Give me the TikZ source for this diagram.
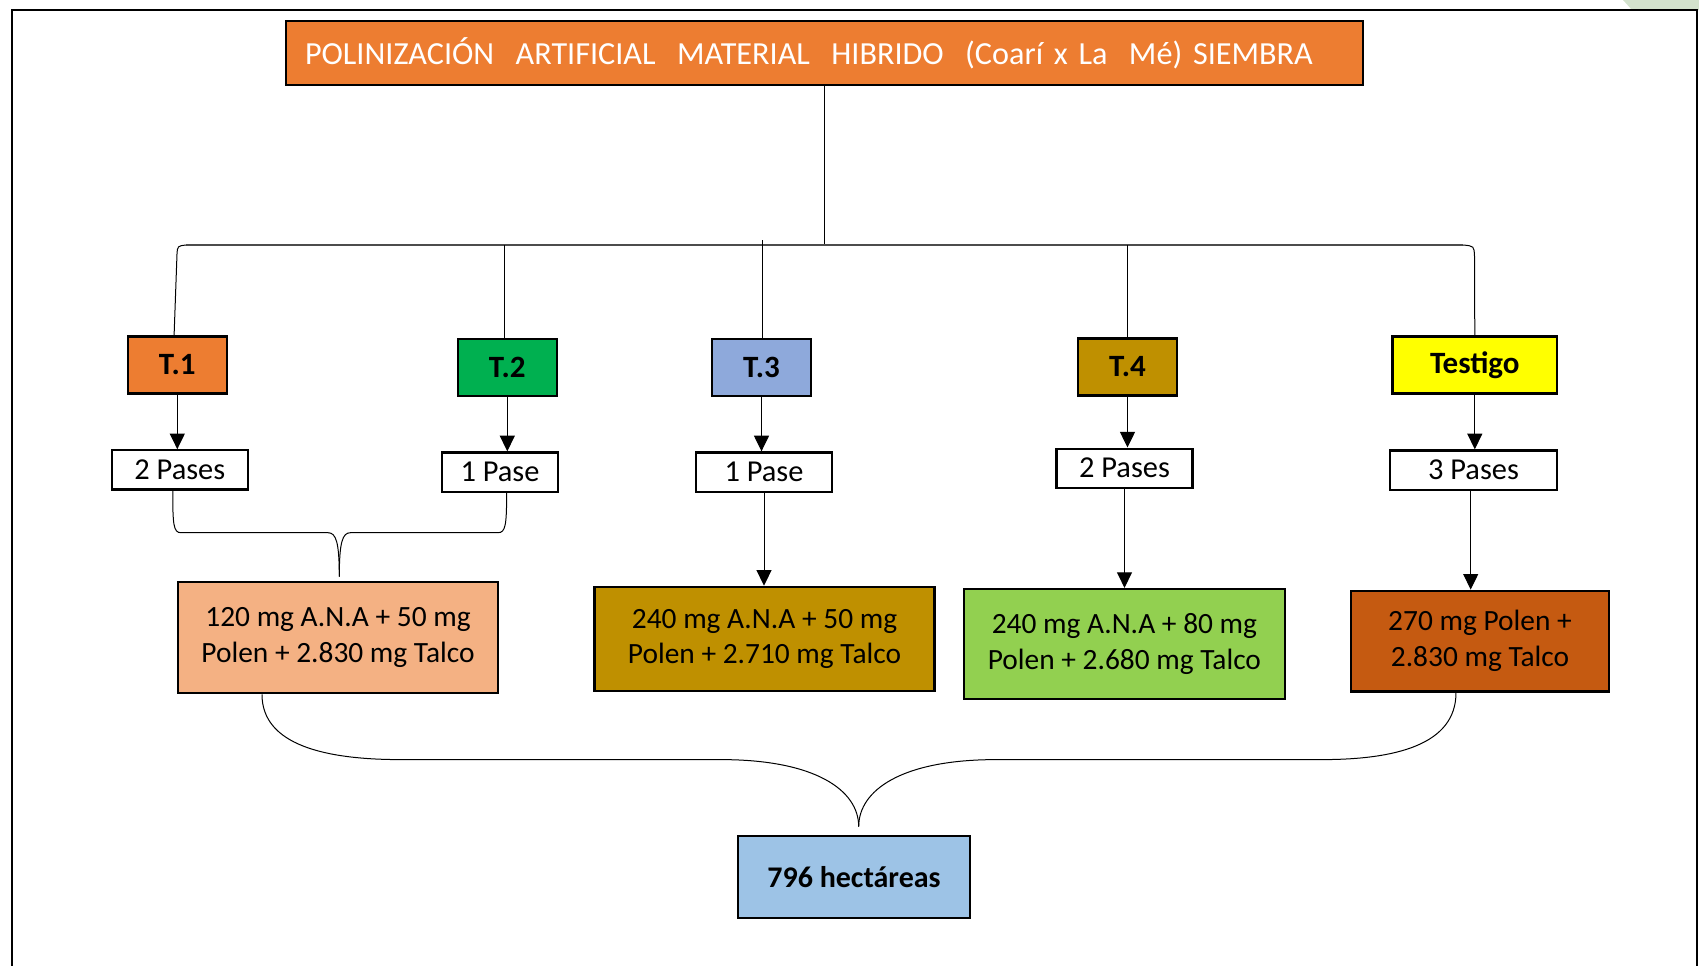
\documentclass[tikz,border=0pt]{standalone}
\usepackage{fontspec}
\setmainfont{Carlito}
\usetikzlibrary{arrows.meta}
\definecolor{cTitle}{HTML}{ED7D31}
\definecolor{cTwo}{HTML}{00B050}
\definecolor{cThree}{HTML}{8EA9DB}
\definecolor{cFour}{HTML}{BF9000}
\definecolor{cTest}{HTML}{FFFF00}
\definecolor{cBoxA}{HTML}{F4B183}
\definecolor{cBoxC}{HTML}{92D050}
\definecolor{cBoxD}{HTML}{C55A11}
\definecolor{cBottom}{HTML}{9DC3E6}
\definecolor{cSliver}{HTML}{D3E2CD}
\begin{document}
\begin{tikzpicture}[x=0.5pt,y=-0.5pt,
  box/.style={draw=black,line width=1.1pt,inner sep=0pt,align=center},
  tbox/.style={box,font=\fontsize{15.5}{18}\selectfont\bfseries,minimum width=49.4pt,minimum height=28.5pt},
  pbox/.style={box,fill=white,font=\fontsize{15.2}{18}\selectfont,minimum height=19.6pt},
  dbox/.style={box,font=\fontsize{14.7}{17.9}\selectfont},
  conn/.style={line width=0.5pt},
  arr/.style={conn,-{Triangle[length=7.8pt,width=7.5pt]}}]
\useasboundingbox (0,0) rectangle (1699,965);
\clip (0,0) rectangle (1699,965);
% background decoration
\fill[cSliver] (1623,0) -- (1699,0) -- (1699,10) -- (1632,10) -- cycle;
\draw[line width=1.4pt] (12,10) rectangle (1697,1100);

% title
\node[box,fill=cTitle,text=white,font=\fontsize{16.1}{19}\selectfont,
  minimum width=538.5pt,minimum height=32.3pt,text width=519.5pt,align=left,inner xsep=9.5pt]
  (title) at (824.5,53) {POLINIZACIÓN~ ARTIFICIAL~ MATERIAL~ HIBRIDO~ (Coarí x La~ Mé) SIEMBRA};

% treatments
\node[tbox,fill=cTitle] (t1) at (177.3,365) {T.1};
\node[tbox,fill=cTwo] (t2) at (507.3,367.2) {T.2};
\node[tbox,fill=cThree] (t3) at (761.5,367.2) {T.3};
\node[tbox,fill=cFour] (t4) at (1127.5,367) {T.4};
\node[tbox,fill=cTest,minimum width=82.3pt] (tst) at (1474.8,365) {Testigo};

% passes
\node[pbox,minimum width=68.2pt] (p1) at (179.8,469.9) {2 Pases};
\node[pbox,minimum width=58pt] (p2) at (500,472) {1 Pase};
\node[pbox,minimum width=68pt] (p3) at (764,472) {1 Pase};
\node[pbox,minimum width=68pt] (p4) at (1124.5,468.2) {2 Pases};
\node[pbox,minimum width=83.5pt] (p5) at (1473.5,470) {3 Pases};

% doses
\node[dbox,fill=cBoxA,minimum width=160pt,minimum height=55.5pt] (b1) at (338,637.8)
  {120 mg A.N.A + 50 mg\\Polen + 2.830 mg Talco};
\node[dbox,fill=cFour,minimum width=170pt,minimum height=52.2pt] (b2) at (764.5,639)
  {240 mg A.N.A + 50 mg\\Polen + 2.710 mg Talco};
\node[dbox,fill=cBoxC,minimum width=160.4pt,minimum height=55pt] (b3) at (1124.4,644)
  {240 mg A.N.A + 80 mg\\Polen + 2.680 mg Talco};
\node[dbox,fill=cBoxD,minimum width=129pt,minimum height=50.4pt] (b4) at (1480,641.1)
  {270 mg Polen +\\2.830 mg Talco};

% total
\node[box,fill=cBottom,font=\fontsize{15}{18}\selectfont\bfseries,minimum width=116pt,minimum height=40.7pt]
  (tot) at (854,877) {796 hectáreas};

% tree from title
\coordinate (hub) at (824.5,245);
\draw[conn] (title.south) -- (hub);
\draw[line width=0.9pt,black!70] (186,245) -- (1463,245);
\draw[conn] ([xshift=-1.6pt]t1.north) -- (177,254) .. controls (177.6,246) .. (186,245);
\draw[conn] (tst.north) -- (1474.5,256) .. controls (1474,246) .. (1463,245);
\draw[conn] ([xshift=-1.3pt]t2.north) -- ([xshift=-1.3pt]t2.north |- hub);
\draw[conn] ([xshift=0.5pt]t3.north) -- ++(0,-98);
\draw[conn] (t4.north) -- (t4.north |- hub);

% arrows to passes
\draw[arr] (t1.south) -- (t1.south |- p1.north);
\draw[arr] (t2.south) -- (t2.south |- p2.north);
\draw[arr] (t3.south) -- (t3.south |- p3.north);
\draw[arr] (t4.south) -- (t4.south |- p4.north);
\draw[arr] (tst.south) -- (tst.south |- p5.north);

% passes to doses
\draw[arr] (p3.south) -- (p3.south |- b2.north);
\draw[arr] (p4.south) -- (p4.south |- b3.north);
\draw[arr] ([xshift=-1.4pt]p5.south) -- ([xshift=-1.4pt]p5.south |- b4.north);

% brace from T.1/T.2 passes to first dose
\coordinate (tipA) at (339.3,576.7);
\draw[conn] ([xshift=-3.5pt]p1.south) .. controls (172.7,525) and (173.5,532.7) .. (181,532.7)
  -- (328,532.7) .. controls (336,532.7) and (339.3,542) .. (tipA);
\draw[conn] ([xshift=3.3pt]p2.south) .. controls (506.7,525) and (505.5,532.7) .. (498,532.7)
  -- (350.5,532.7) .. controls (342.5,532.7) and (339.3,542) .. (tipA);

% big brace to total
\coordinate (tipB) at (858.7,826.7);
\draw[conn] ([xshift=-38pt]b1.south) .. controls (262,745) and (325,759.6) .. (401,759.6)
  -- (721,759.6) .. controls (815,759.6) and (858.7,790) .. (tipB);
\draw[conn] ([xshift=-12pt]b4.south) .. controls (1456,745) and (1395,759.6) .. (1321.5,759.6)
  -- (996,759.6) .. controls (902,759.6) and (858.7,790) .. (tipB);
\end{tikzpicture}
\end{document}
